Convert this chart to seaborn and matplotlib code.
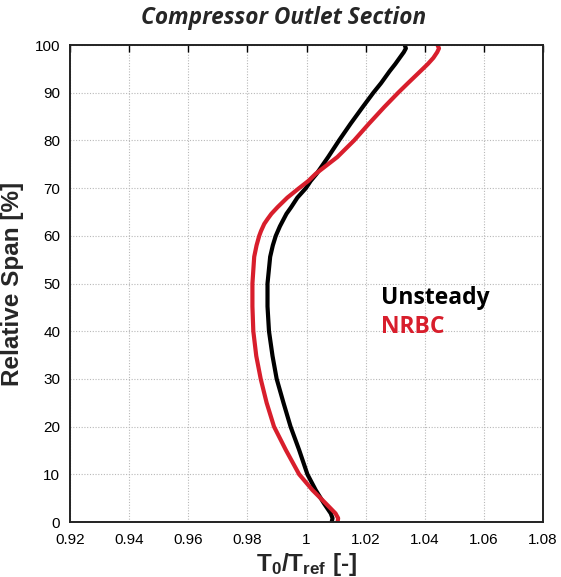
import matplotlib
matplotlib.use("Agg")
import matplotlib.pyplot as plt
import seaborn as sns
import pandas as pd

# Radial profiles of total temperature ratio at the compressor outlet
span_unsteady = [100, 99.3, 98.5, 97.3, 96.0, 94.5, 92.0, 90.0, 87.0, 83.5, 80.0, 76.5,
                 73.0, 71.5, 70.0, 68.0, 66.0, 64.6, 62.0, 60.0, 58.0, 55.6, 50.0, 45.2,
                 40.0, 34.8, 30.0, 25.0, 20.0, 15.1, 10.0, 6.7, 3.9, 1.8, 0.8, 0.0]
t_unsteady = [1.0332, 1.0336, 1.0329, 1.0315, 1.0300, 1.0281, 1.0252, 1.0226, 1.0190,
              1.0149, 1.0110, 1.0073, 1.0034, 1.0014, 0.9998, 0.9969, 0.9948, 0.9932,
              0.9910, 0.9896, 0.9886, 0.9877, 0.9868, 0.9868, 0.9873, 0.9885, 0.9899,
              0.9922, 0.9946, 0.9975, 1.0003, 1.0031, 1.0059, 1.0082, 1.0088, 1.0085]

span_nrbc = [100, 99.3, 98.5, 97.3, 96.0, 94.5, 92.0, 90.0, 87.0, 83.5, 80.0, 76.5,
             73.0, 71.5, 70.0, 68.0, 66.0, 64.6, 63.5, 62.5, 61.0, 60.0, 58.0, 55.6,
             50.0, 45.2, 40.0, 34.8, 30.0, 25.0, 20.0, 15.1, 10.0, 6.7, 3.9, 1.8,
             0.8, 0.0]
t_nrbc = [1.0443, 1.0448, 1.0442, 1.0429, 1.0410, 1.0385, 1.0343, 1.0310, 1.0263,
          1.0211, 1.0161, 1.0104, 1.0031, 1.0006, 0.9975, 0.9935, 0.9902, 0.9881,
          0.9868, 0.9857, 0.9846, 0.9840, 0.9831, 0.9823, 0.9817, 0.9817, 0.9820,
          0.9830, 0.9845, 0.9865, 0.9890, 0.9930, 0.9975, 1.0020, 1.0065, 1.0098,
          1.0107, 1.0105]

x_ticks = [0.92, 0.94, 0.96, 0.98, 1.00, 1.02, 1.04, 1.06, 1.08]
x_tick_labels = ["0.92", "0.94", "0.96", "0.98", "1", "1.02", "1.04", "1.06", "1.08"]
y_ticks = [0, 10, 20, 30, 40, 50, 60, 70, 80, 90, 100]

series_names = ["Unsteady", "NRBC"]
series_colors = {"Unsteady": "#000000", "NRBC": "#d81e2c"}

df = pd.concat([
    pd.DataFrame({"T": t_unsteady, "span": span_unsteady, "case": "Unsteady"}),
    pd.DataFrame({"T": t_nrbc, "span": span_nrbc, "case": "NRBC"}),
], ignore_index=True)

sns.set_theme(style="white")
plt.rcParams["font.family"] = ["Liberation Sans", "DejaVu Sans"]
plt.rcParams["mathtext.fontset"] = "custom"
plt.rcParams["mathtext.rm"] = "Liberation Sans:bold"
plt.rcParams["mathtext.it"] = "Liberation Sans:bold"
plt.rcParams["mathtext.bf"] = "Liberation Sans:bold"

fig = plt.figure(figsize=(5.61, 5.77), dpi=100)
ax = fig.add_axes([0.1248, 0.0953, 0.8432, 0.8267])

sns.lineplot(data=df, x="T", y="span", hue="case", hue_order=series_names,
             palette=series_colors, sort=False, orient="y", estimator=None,
             linewidth=3.0, legend=False, ax=ax)
for ln in ax.get_lines():
    ln.set_solid_joinstyle("round")
    ln.set_solid_capstyle("round")

ax.set_xlim(0.92, 1.08)
ax.set_ylim(0, 100)
ax.set_xticks(x_ticks)
ax.set_xticklabels(x_tick_labels)
ax.set_yticks(y_ticks)
ax.grid(True, color="#b8b8b8", linestyle=(0, (1, 1.5)), linewidth=0.8)
ax.tick_params(direction="in", length=5, width=1, top=True, right=True,
               labelsize=11, colors="black", pad=8)
ax.tick_params(axis="y", length=0, pad=7)
for s in ax.spines.values():
    s.set_color("#222222")
    s.set_linewidth(1.4)

ax.set_xlabel(r"$\mathrm{T_0/T_{ref}\ [\text{-}]}$", fontsize=17.5, labelpad=3)
ax.set_ylabel("Relative Span [%]", fontsize=17.5, fontweight="bold", labelpad=8)

fig.text(0.506, 0.968, "Compressor Outlet Section", ha="center", va="center",
         fontsize=16.3, fontweight="bold", fontstyle="italic", family="Open Sans")

ax.text(1.0252, 47.0, "Unsteady", color=series_colors["Unsteady"], fontsize=16.5,
        fontweight="bold", family="Open Sans", va="center", ha="left")
ax.text(1.0252, 40.8, "NRBC", color=series_colors["NRBC"], fontsize=16.5,
        fontweight="bold", family="Open Sans", va="center", ha="left")

fig.savefig("out.png", dpi=100)
